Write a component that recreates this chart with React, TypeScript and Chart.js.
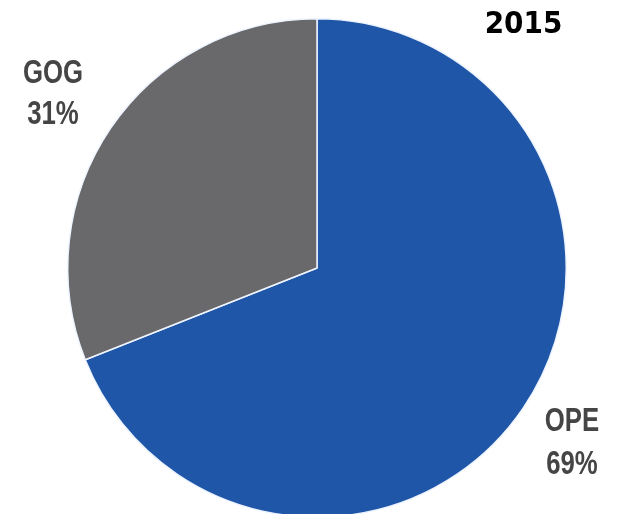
import React, { useEffect, useRef } from "react";
import { Chart, registerables } from "chart.js";

Chart.register(...registerables);

const categories = ["OPE", "GOG"];
const values = [69, 31];
const colors = ["#1F56A8", "#69696B"];
const title = "2015";

function drawScaled(ctx: any, text: string, x: number, y: number, sx: number) {
  ctx.save();
  ctx.translate(x, y);
  ctx.scale(sx, 1);
  ctx.fillText(text, 0, 0);
  ctx.restore();
}

const labelPlugin = {
  id: "sliceLabels",
  afterDraw(chart: any) {
    const ctx = chart.ctx;
    ctx.save();
    ctx.textAlign = "center";
    ctx.textBaseline = "alphabetic";
    ctx.fillStyle = "#454545";
    ctx.font = "bold 33px 'Liberation Sans', Arial, sans-serif";
    const pos = [
      { x: 572, y: 431, gap: 43 },
      { x: 53, y: 83, gap: 41 },
    ];
    categories.forEach((c, i) => {
      drawScaled(ctx, c, pos[i].x, pos[i].y, 0.78);
      drawScaled(ctx, values[i] + "%", pos[i].x, pos[i].y + pos[i].gap, 0.78);
    });
    ctx.fillStyle = "#000";
    ctx.font = "bold 31px 'DejaVu Sans', sans-serif";
    drawScaled(ctx, title, 523.5, 33, 0.9);
    ctx.restore();
  },
};

export default function App() {
  const ref = useRef<HTMLCanvasElement>(null);
  useEffect(() => {
    const chart = new Chart(ref.current!, {
      type: "pie",
      data: {
        labels: categories,
        datasets: [
          {
            data: values,
            backgroundColor: colors,
            borderColor: "#EEF4FF",
            borderWidth: 1.5,
          },
        ],
      },
      options: {
        responsive: false,
        animation: false,
        layout: { padding: { top: 17, bottom: 21, left: 67, right: 58 } },
        plugins: {
          legend: { display: false },
          tooltip: { enabled: false },
        },
      },
      plugins: [labelPlugin],
    });
    return () => chart.destroy();
  }, []);
  return (
    <div
      style={{
        position: "fixed",
        left: 0,
        top: 0,
        width: 625,
        height: 514,
        overflow: "hidden",
        background: "#fff",
      }}
    >
      <canvas ref={ref} width={625} height={540} style={{ display: "block" }} />
    </div>
  );
}
